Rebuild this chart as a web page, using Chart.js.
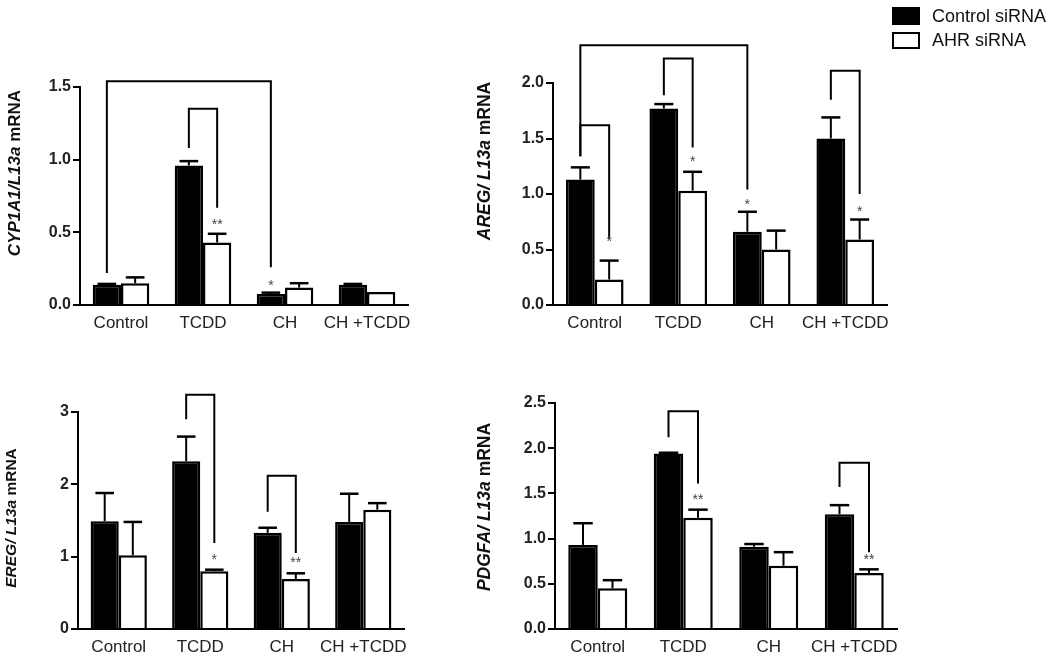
<!DOCTYPE html>
<html>
<head>
<meta charset="utf-8">
<script src="https://cdn.jsdelivr.net/npm/chart.js@4.4.0/dist/chart.umd.min.js"></script>
<style>
  html, body { margin: 0; padding: 0; background: #fff; }
  #page { position: relative; width: 1050px; height: 658px; overflow: hidden; font-family: "Liberation Sans", Arial, sans-serif; }
  canvas { position: absolute; }
  .lg-box { position: absolute; left: 892px; width: 28px; box-sizing: border-box; border: 2.5px solid #000; }
  .lg-text { position: absolute; left: 932px; font-size: 18px; color: #111; line-height: 20px; }
</style>
</head>
<body>
<div id="page">
  <canvas id="p1"></canvas>
  <canvas id="p2"></canvas>
  <canvas id="p3"></canvas>
  <canvas id="p4"></canvas>
  <div class="lg-box" style="top:7px;height:18px;background:#000"></div>
  <div class="lg-text" style="top:6px">Control siRNA</div>
  <div class="lg-box" style="top:32px;height:17px;background:#fff"></div>
  <div class="lg-text" style="top:30px">AHR siRNA</div>
</div>
<script>
// 공통 데이터
const categories = ['Control', 'TCDD', 'CH', 'CH +TCDD'];
const seriesLabels = ['Control siRNA', 'AHR siRNA'];

// CYP1A1 / L13a
const cypCtrl = [0.14, 0.96, 0.075, 0.14];
const cypCtrlErr = [0.005, 0.03, 0.01, 0.005];
const cypAhr = [0.15, 0.43, 0.12, 0.09];
const cypAhrErr = [0.04, 0.06, 0.03, 0];
const cypTicks = [0, 0.5, 1.0, 1.5];
const cypTickLabels = ['0.0', '0.5', '1.0', '1.5'];
// [series, category, series, category, top, left end, right end]
const cypBrackets = [[0, 0, 0, 2, 1.54, 0.22, 0.26], [0, 1, 1, 1, 1.35, 1.08, 0.67]];
// [series, category, text, value]
const cypStars = [[1, 1, '**', 0.57], [0, 2, '*', 0.15]];

// AREG / L13a
const aregCtrl = [1.13, 1.77, 0.66, 1.50];
const aregCtrlErr = [0.11, 0.04, 0.18, 0.19];
const aregAhr = [0.23, 1.03, 0.50, 0.59];
const aregAhrErr = [0.17, 0.17, 0.17, 0.18];
const aregTicks = [0, 0.5, 1.0, 1.5, 2.0];
const aregTickLabels = ['0.0', '0.5', '1.0', '1.5', '2.0'];
const aregBrackets = [
  [0, 0, 0, 2, 2.34, 1.34, 1.04],
  [0, 0, 1, 0, 1.62, 1.34, 0.60],
  [0, 1, 1, 1, 2.22, 1.89, 1.42],
  [0, 3, 1, 3, 2.11, 1.85, 1.00]
];
const aregStars = [[1, 0, '*', 0.59], [1, 1, '*', 1.31], [0, 2, '*', 0.93], [1, 3, '*', 0.86]];

// EREG / L13a
const eregCtrl = [1.49, 2.32, 1.33, 1.48];
const eregCtrlErr = [0.39, 0.34, 0.07, 0.39];
const eregAhr = [1.02, 0.80, 0.69, 1.65];
const eregAhrErr = [0.46, 0.02, 0.08, 0.09];
const eregTicks = [0, 1, 2, 3];
const eregTickLabels = ['0', '1', '2', '3'];
const eregBrackets = [[0, 1, 1, 1, 3.24, 2.90, 1.19], [0, 2, 1, 2, 2.12, 1.62, 1.05]];
const eregStars = [[1, 1, '*', 1.0], [1, 2, '**', 0.95]];

// PDGFA / L13a
const pdgfCtrl = [0.93, 1.94, 0.91, 1.27];
const pdgfCtrlErr = [0.24, 0.01, 0.03, 0.10];
const pdgfAhr = [0.45, 1.23, 0.70, 0.62];
const pdgfAhrErr = [0.09, 0.09, 0.15, 0.04];
const pdgfTicks = [0, 0.5, 1.0, 1.5, 2.0, 2.5];
const pdgfTickLabels = ['0.0', '0.5', '1.0', '1.5', '2.0', '2.5'];
const pdgfBrackets = [[0, 1, 1, 1, 2.41, 2.12, 1.61], [0, 3, 1, 3, 1.84, 1.57, 0.85]];
const pdgfStars = [[1, 1, '**', 1.46], [1, 3, '**', 0.79]];

const FONT = '"Liberation Sans", Arial, sans-serif';
const YAXIS_W = 60;
const XAXIS_H = 28;

// 패널 배치 (페이지 좌표)
const panels = [
  { id: 'p1', box: { left: 0, top: 30, width: 460, height: 310 }, area: { left: 80, right: 408, top: 87, bottom: 305 },
    ctrl: cypCtrl, ctrlErr: cypCtrlErr, ahr: cypAhr, ahrErr: cypAhrErr, ticks: cypTicks, tickLabels: cypTickLabels,
    brackets: cypBrackets, stars: cypStars, title: { italic: 'CYP1A1/L13a', normal: ' mRNA', x: 15, y: 173, size: 17 } },
  { id: 'p2', box: { left: 470, top: 30, width: 440, height: 310 }, area: { left: 553, right: 887, top: 83, bottom: 305 },
    ctrl: aregCtrl, ctrlErr: aregCtrlErr, ahr: aregAhr, ahrErr: aregAhrErr, ticks: aregTicks, tickLabels: aregTickLabels,
    brackets: aregBrackets, stars: aregStars, title: { italic: 'AREG/ L13a', normal: ' mRNA', x: 485, y: 161, size: 17.5 } },
  { id: 'p3', box: { left: 0, top: 340, width: 460, height: 318 }, area: { left: 78, right: 404, top: 412, bottom: 629 },
    ctrl: eregCtrl, ctrlErr: eregCtrlErr, ahr: eregAhr, ahrErr: eregAhrErr, ticks: eregTicks, tickLabels: eregTickLabels,
    brackets: eregBrackets, stars: eregStars, title: { italic: 'EREG/ L13a', normal: ' mRNA', x: 12, y: 518, size: 15.5 } },
  { id: 'p4', box: { left: 470, top: 340, width: 440, height: 318 }, area: { left: 555, right: 897, top: 403, bottom: 629 },
    ctrl: pdgfCtrl, ctrlErr: pdgfCtrlErr, ahr: pdgfAhr, ahrErr: pdgfAhrErr, ticks: pdgfTicks, tickLabels: pdgfTickLabels,
    brackets: pdgfBrackets, stars: pdgfStars, title: { italic: 'PDGFA/ L13a', normal: ' mRNA', x: 485, y: 507, size: 17.5 } }
];

// 에러바, 괄호, 별표, y축 제목 그리는 플러그인
function makeExtras(p) {
  return {
    id: 'extras',
    afterDatasetsDraw(chart) {
      const ctx = chart.ctx;
      const y = chart.scales.y;
      const errs = [p.ctrlErr, p.ahrErr];
      ctx.save();
      ctx.strokeStyle = '#000';
      ctx.lineCap = 'butt';

      errs.forEach((errArr, di) => {
        const meta = chart.getDatasetMeta(di);
        meta.data.forEach((bar, i) => {
          const e = errArr[i];
          if (!e) return;
          const v = chart.data.datasets[di].data[i];
          const yTop = y.getPixelForValue(v + e);
          const half = bar.width * 0.33;
          ctx.lineWidth = 2;
          ctx.beginPath();
          ctx.moveTo(bar.x, bar.y);
          ctx.lineTo(bar.x, yTop);
          ctx.stroke();
          ctx.lineWidth = 2.5;
          ctx.beginPath();
          ctx.moveTo(bar.x - half, yTop);
          ctx.lineTo(bar.x + half, yTop);
          ctx.stroke();
        });
      });

      ctx.lineWidth = 2;
      p.brackets.forEach(b => {
        const x1 = chart.getDatasetMeta(b[0]).data[b[1]].x;
        const x2 = chart.getDatasetMeta(b[2]).data[b[3]].x;
        const yt = y.getPixelForValue(b[4]);
        ctx.beginPath();
        ctx.moveTo(x1, y.getPixelForValue(b[5]));
        ctx.lineTo(x1, yt);
        ctx.lineTo(x2, yt);
        ctx.lineTo(x2, y.getPixelForValue(b[6]));
        ctx.stroke();
      });

      ctx.fillStyle = '#444';
      ctx.font = '14px ' + FONT;
      ctx.textAlign = 'center';
      ctx.textBaseline = 'middle';
      p.stars.forEach(s => {
        const bar = chart.getDatasetMeta(s[0]).data[s[1]];
        ctx.fillText(s[2], bar.x, y.getPixelForValue(s[3]) + 3);
      });

      // y축 제목 (이탤릭 + 일반)
      const t = p.title;
      const fi = 'italic bold ' + t.size + 'px ' + FONT;
      const fn = 'bold ' + t.size + 'px ' + FONT;
      ctx.font = fi;
      const w1 = ctx.measureText(t.italic).width;
      ctx.font = fn;
      const w2 = ctx.measureText(t.normal).width;
      ctx.translate(t.x - p.box.left, t.y - p.box.top);
      ctx.rotate(-Math.PI / 2);
      ctx.fillStyle = '#111';
      ctx.textAlign = 'left';
      ctx.font = fi;
      ctx.fillText(t.italic, -(w1 + w2) / 2, 0);
      ctx.font = fn;
      ctx.fillText(t.normal, -(w1 + w2) / 2 + w1, 0);
      ctx.restore();
    }
  };
}

panels.forEach(p => {
  const cv = document.getElementById(p.id);
  cv.width = p.box.width;
  cv.height = p.box.height;
  cv.style.left = p.box.left + 'px';
  cv.style.top = p.box.top + 'px';
  cv.style.width = p.box.width + 'px';
  cv.style.height = p.box.height + 'px';

  const pad = {
    left: p.area.left - p.box.left - YAXIS_W,
    right: p.box.left + p.box.width - p.area.right,
    top: p.area.top - p.box.top,
    bottom: p.box.top + p.box.height - p.area.bottom - XAXIS_H
  };

  new Chart(cv.getContext('2d'), {
    type: 'bar',
    data: {
      labels: categories,
      datasets: [
        { label: seriesLabels[0], data: p.ctrl, backgroundColor: '#000', borderColor: '#000', borderWidth: 2.5 },
        { label: seriesLabels[1], data: p.ahr, backgroundColor: '#fff', borderColor: '#000', borderWidth: 2.5 }
      ]
    },
    options: {
      responsive: false,
      animation: false,
      events: [],
      layout: { padding: pad },
      datasets: { bar: { categoryPercentage: 0.69, barPercentage: 1.0 } },
      plugins: { legend: { display: false }, tooltip: { enabled: false } },
      scales: {
        x: {
          afterFit: s => { s.height = XAXIS_H; },
          grid: { display: false, drawTicks: false },
          border: { display: true, color: '#000', width: 2 },
          ticks: { font: { size: 17, family: FONT }, color: '#222', padding: 8, maxRotation: 0, autoSkip: false }
        },
        y: {
          min: p.ticks[0],
          max: p.ticks[p.ticks.length - 1],
          afterBuildTicks: s => { s.ticks = p.ticks.map(v => ({ value: v })); },
          afterFit: s => { s.width = YAXIS_W; },
          grid: { drawOnChartArea: false, drawTicks: true, tickLength: 7, color: '#000', lineWidth: 2 },
          border: { display: true, color: '#000', width: 2 },
          ticks: {
            callback: (v, i) => p.tickLabels[i],
            font: { size: 16, weight: 'bold', family: FONT },
            color: '#222',
            padding: 2
          }
        }
      }
    },
    plugins: [makeExtras(p)]
  });
});
</script>
</body>
</html>
